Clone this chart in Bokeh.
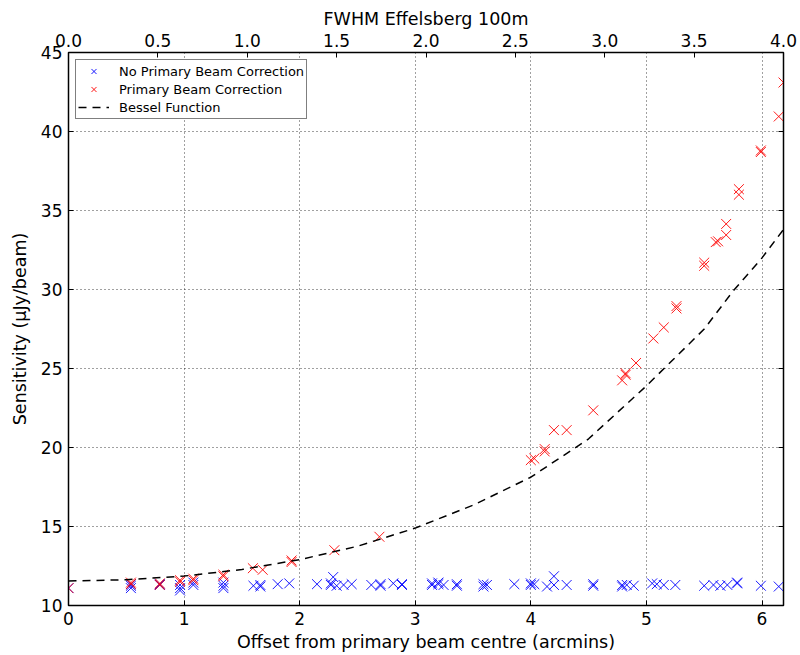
from bokeh.plotting import figure
from bokeh.models import (Range1d, LinearAxis, FixedTicker, NumeralTickFormatter,
                          Legend, LegendItem, CustomLabelingPolicy)
from bokeh.embed import file_html
from bokeh.resources import INLINE

# Offsets from the pointing centre (arcmin) and measured sensitivities (uJy/beam)
no_pb_x = [0.0, 0.54, 0.54, 0.54, 0.79, 0.79, 0.965, 0.965, 0.965, 1.08, 1.08,
           1.34, 1.34, 1.34, 1.60, 1.66, 1.66, 1.81, 1.91, 2.15, 2.27, 2.27,
           2.29, 2.32, 2.38, 2.45, 2.62, 2.70, 2.70, 2.81, 2.885, 2.885,
           3.145, 3.145, 3.20, 3.20, 3.245, 3.36, 3.36, 3.59, 3.59, 3.62,
           3.857, 4.0, 4.0, 4.03, 4.14, 4.20, 4.20, 4.31, 4.54, 4.54, 4.79,
           4.79, 4.83, 4.89, 5.05, 5.09, 5.15, 5.25, 5.50, 5.58, 5.64, 5.70,
           5.785, 5.785, 5.99, 6.145]
no_pb_y = [11.1, 11.1, 11.25, 11.35, 11.3, 11.35, 10.95, 11.1, 11.3, 11.3, 11.45,
           11.1, 11.25, 11.45, 11.25, 11.2, 11.3, 11.35, 11.4, 11.35, 11.3, 11.4,
           11.8, 11.25, 11.3, 11.35, 11.3, 11.35, 11.25, 11.4, 11.3, 11.35,
           11.4, 11.3, 11.35, 11.45, 11.3, 11.35, 11.25, 11.35, 11.2, 11.3,
           11.35, 11.3, 11.4, 11.35, 11.2, 11.3, 11.85, 11.3, 11.35, 11.25, 11.2,
           11.3, 11.3, 11.25, 11.4, 11.35, 11.3, 11.3, 11.25, 11.3, 11.25, 11.3,
           11.4, 11.45, 11.25, 11.2]

pb_x = [0.0, 0.54, 0.54, 0.79, 0.79, 0.965, 0.965, 1.08, 1.08, 1.34, 1.34,
        1.595, 1.68, 1.93, 1.93, 2.30, 2.69, 4.0, 4.03, 4.12, 4.12, 4.20, 4.31,
        4.54, 4.79, 4.82, 4.82, 4.91, 5.06, 5.15, 5.26, 5.26, 5.50, 5.50, 5.60,
        5.62, 5.69, 5.69, 5.80, 5.80, 5.99, 5.99, 6.145, 6.186]
pb_y = [11.1, 11.35, 11.45, 11.3, 11.4, 11.5, 11.6, 11.6, 11.7, 11.85, 11.95,
        12.36, 12.26, 12.75, 12.85, 13.5, 14.35, 19.2, 19.3, 19.75, 19.9, 21.1, 21.1,
        22.35, 24.25, 24.6, 24.7, 25.35, 26.9, 27.6, 28.8, 28.95, 31.5, 31.7, 33.0,
        33.05, 33.45, 34.15, 36.0, 36.35, 38.7, 38.8, 40.95, 43.1]

# Expected sensitivity from the primary beam response
bessel_x = [0.0, 0.5, 1.0, 1.5, 2.0, 2.5, 3.0, 3.5, 4.0, 4.5, 5.0, 5.5, 5.75,
            6.0, 6.186]
bessel_y = [11.55, 11.63, 11.86, 12.28, 12.9, 13.75, 14.9, 16.35, 18.12, 20.55,
            23.9, 27.5, 29.9, 32.0, 33.8]

x_ticks = [0, 1, 2, 3, 4, 5, 6]
y_ticks = [10, 15, 20, 25, 30, 35, 40, 45]
fwhm_ticks = [0.0, 0.5, 1.0, 1.5, 2.0, 2.5, 3.0, 3.5, 4.0]

FONT = "DejaVu Sans"
TICK_SIZE = "17px"
LABEL_SIZE = "17.5px"

p = figure(width=800, height=655, output_backend="svg", toolbar_location=None,
           x_range=Range1d(0, 6.186), y_range=Range1d(10, 45),
           min_border_left=68, min_border_right=17, min_border_top=52,
           min_border_bottom=50)
p.extra_x_ranges = {"fwhm": Range1d(0, 4.0)}
p.extra_y_ranges = {"right": Range1d(10, 45)}

p.outline_line_color = "black"
p.outline_line_width = 1.5
p.background_fill_color = "white"
p.border_fill_color = "white"


def style_axis(ax):
    ax.major_tick_in = 5
    ax.major_tick_out = 0
    ax.minor_tick_in = 0
    ax.minor_tick_out = 0
    ax.major_tick_line_color = "black"
    ax.axis_line_color = "black"
    ax.major_label_text_font = FONT
    ax.major_label_text_font_size = TICK_SIZE
    ax.major_label_text_color = "black"
    ax.axis_label_text_font = FONT
    ax.axis_label_text_font_size = LABEL_SIZE
    ax.axis_label_text_font_style = "normal"
    ax.axis_label_text_color = "black"


xaxis = p.xaxis[0]
xaxis.ticker = FixedTicker(ticks=x_ticks)
xaxis.axis_label = "Offset from primary beam centre (arcmins)"
style_axis(xaxis)
xaxis.major_label_standoff = 6
xaxis.axis_label_standoff = 4

yaxis = p.yaxis[0]
yaxis.ticker = FixedTicker(ticks=y_ticks)
yaxis.axis_label = "Sensitivity (μJy/beam)"
style_axis(yaxis)
yaxis.major_label_standoff = 6
yaxis.axis_label_standoff = 8

top_axis = LinearAxis(x_range_name="fwhm", axis_label="FWHM Effelsberg 100m",
                      ticker=FixedTicker(ticks=fwhm_ticks),
                      formatter=NumeralTickFormatter(format="0.0"))
style_axis(top_axis)
top_axis.major_label_standoff = 6
top_axis.axis_label_standoff = 2
p.add_layout(top_axis, "above")

# Right-hand spine carries tick marks only, no labels
right_axis = LinearAxis(y_range_name="right", ticker=FixedTicker(ticks=y_ticks),
                        major_label_policy=CustomLabelingPolicy(code="return []"))
style_axis(right_axis)
right_axis.major_label_text_font_size = "0px"
right_axis.major_label_standoff = 0
p.add_layout(right_axis, "right")

for g in (p.xgrid[0], p.ygrid[0]):
    g.grid_line_color = "black"
    g.grid_line_alpha = 0.75
    g.grid_line_dash = "1 3"
    g.grid_line_width = 1

r_no_pb = p.scatter(no_pb_x, no_pb_y, marker="x", size=14, line_color="#0000ff",
                    line_width=1, line_alpha=0.9)
r_pb = p.scatter(pb_x, pb_y, marker="x", size=14, line_color="#ff0000",
                 line_width=1, line_alpha=0.9)
r_bessel = p.line(bessel_x, bessel_y, line_color="black", line_width=1.5,
                  line_dash="8 6")

legend = Legend(items=[
    LegendItem(label="No Primary Beam Correction", renderers=[r_no_pb]),
    LegendItem(label="Primary Beam Correction", renderers=[r_pb]),
    LegendItem(label="Bessel Function", renderers=[r_bessel]),
], location="top_left")
legend.margin = 7
legend.padding = 2
legend.spacing = 0
legend.label_height = 18
legend.glyph_height = 18
legend.glyph_width = 31
legend.label_standoff = 10
legend.label_text_font = FONT
legend.label_text_font_size = "13px"
legend.label_text_color = "black"
legend.border_line_color = "black"
legend.border_line_width = 1.2
legend.background_fill_color = "white"
legend.background_fill_alpha = 1.0
p.add_layout(legend, "center")

open("out.html", "w").write(file_html(p, INLINE))
